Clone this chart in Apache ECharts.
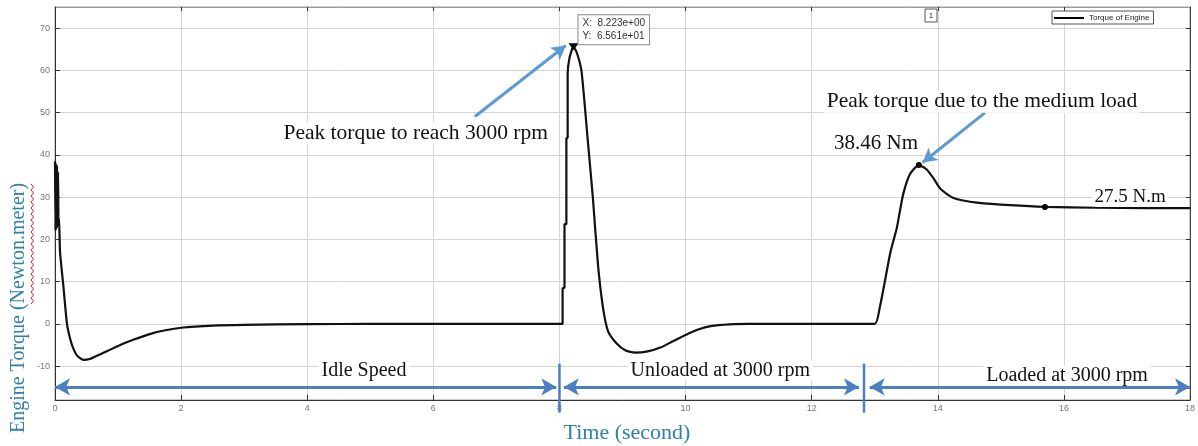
<!DOCTYPE html>
<html>
<head>
<meta charset="utf-8">
<script src="https://cdn.jsdelivr.net/npm/echarts@6/dist/echarts.min.js"></script>
<style>
html,body{margin:0;padding:0;background:#fff;}
#chart{width:1198px;height:446px;}
</style>
</head>
<body>
<div id="chart"></div>
<script>
// ---- data ----
const timeValues = [
  0, 0.008, 0.016, 0.024, 0.032, 0.040, 0.048, 0.056, 0.064, 0.08, 0.13, 0.19, 0.24, 0.29, 0.35, 0.45, 0.55, 0.7, 1.0, 1.25, 1.5, 1.75, 2.0, 2.5, 3.0, 4.0, 5.0, 6.0, 7.0, 8.05,
  8.05, 8.08, 8.08, 8.11, 8.11, 8.13, 8.13, 8.16, 8.223, 8.28, 8.35, 8.45, 8.53, 8.61, 8.69, 8.77, 8.9, 9.05, 9.2, 9.4, 9.6, 9.8, 10.0, 10.2, 10.4, 10.7, 11.0, 12.0, 13.0,
  13.08, 13.16, 13.25, 13.35, 13.45, 13.56, 13.7, 13.82, 13.93, 14.03, 14.14, 14.25, 14.4, 14.62, 15.15, 15.7, 16.5, 17.3, 18.0
];
const torqueValues = [
  38.5, 22.0, 38.0, 22.5, 37.5, 23.0, 36.0, 24.0, 25.0, 17.0, 9.4, 0.0, -3.5, -5.8, -7.5, -8.5, -8.3, -7.3, -5.2, -3.7, -2.4, -1.5, -0.9, -0.4, -0.2, -0.05, 0, 0, 0, 0,
  8.5, 8.5, 23.6, 23.6, 44.0, 44.0, 59.0, 63.0, 65.61, 64.0, 59.8, 43.3, 29.9, 14.2, 3.9, -1.7, -4.5, -6.3, -6.8, -6.5, -5.6, -4.1, -2.6, -1.3, -0.5, -0.1, 0, 0, 0,
  3.9, 10.0, 17.0, 22.7, 30.6, 35.5, 37.6, 36.6, 34.5, 32.2, 30.8, 29.8, 29.2, 28.7, 28.1, 27.7, 27.5, 27.4, 27.4
];
const xTicks = [0, 2, 4, 6, 8, 10, 12, 14, 16, 18];
const yTicks = [-10, 0, 10, 20, 30, 40, 50, 60, 70];
const seriesName = 'Torque of Engine';
const peakTip = [8.223, 65.61];
const markedPoints = [[13.7, 37.6], [15.7, 27.7]];
const phaseNames = ['Idle Speed', 'Unloaded at 3000 rpm', 'Loaded at 3000 rpm'];
const phaseStart = [0, 8.07, 12.92];
const phaseEnd = [7.95, 12.75, 18.0];
const phaseDividers = [8.0, 12.83];
const noteTexts = ['Peak torque to reach 3000 rpm', 'Peak torque due to the medium load', '38.46 Nm', '27.5 N.m'];

// ---- layout / style ----
const SERIF = 'Liberation Serif, Times New Roman, serif';
const SANS = 'Liberation Sans, Arial, sans-serif';
const BLUE = '#4a7fc0';
const LIGHTBLUE = '#5b9bd5';
const TEAL = '#2f7fa8';
const noteX = [5.72, 14.70, 13.02, 17.05];
const noteY = [45.0, 52.6, 42.7, 30.1];
const noteSize = [21.5, 21.5, 21, 19];
const phaseLabelX = [4.9, 10.55, 16.05];
const phaseLabelY = [-11.1, -11.1, -12.2];
const arrowY = -14.9;
const dividerTop = -9.4, dividerBottom = -21.0;

function fmtExp(v) {
  return v.toExponential(3).replace(/e([+-])(\d)$/, 'e$10$2');
}

const chart = echarts.init(document.getElementById('chart'), null, {renderer: 'canvas'});

const seriesData = timeValues.map((t, i) => [t, torqueValues[i]]);

const labelPoints = [];
noteTexts.forEach((txt, i) => {
  labelPoints.push({
    coord: [noteX[i], noteY[i]], symbol: 'circle', symbolSize: 1,
    itemStyle: {color: 'rgba(0,0,0,0)'},
    label: {show: true, position: 'inside', formatter: txt, fontFamily: SERIF, fontSize: noteSize[i], color: '#111',
            backgroundColor: '#fff', padding: [0, 2]}
  });
});
phaseNames.forEach((txt, i) => {
  labelPoints.push({
    coord: [phaseLabelX[i], phaseLabelY[i]], symbol: 'circle', symbolSize: 1,
    itemStyle: {color: 'rgba(0,0,0,0)'},
    label: {show: true, position: 'inside', formatter: txt, fontFamily: SERIF, fontSize: 20, color: '#111',
            backgroundColor: '#fff', padding: [0, 3]}
  });
});
markedPoints.forEach(p => {
  labelPoints.push({coord: p, symbol: 'circle', symbolSize: 6, itemStyle: {color: '#000'}, label: {show: false}});
});
labelPoints.push({
  coord: peakTip, symbol: 'triangle', symbolRotate: 180, symbolSize: [10, 7], itemStyle: {color: '#000'},
  label: {show: true, position: [10, -28], formatter: 'X:  ' + fmtExp(peakTip[0]) + '\nY:  ' + fmtExp(peakTip[1]),
          fontFamily: SANS, fontSize: 10, color: '#333', lineHeight: 13, backgroundColor: '#fff',
          borderColor: '#888', borderWidth: 1, padding: [2, 4, 1, 4]}
});

const arrowLines = [];
phaseNames.forEach((n, i) => {
  arrowLines.push([
    {coord: [phaseStart[i], arrowY], symbol: 'arrow', symbolSize: [13, 15]},
    {coord: [phaseEnd[i], arrowY], symbol: 'arrow', symbolSize: [13, 15]}
  ]);
});
arrowLines.push([
  {coord: [6.66, 49.1], symbol: 'none', lineStyle: {color: LIGHTBLUE, width: 3}},
  {coord: [8.10, 65.9], symbol: 'arrow', symbolSize: [12, 14]}
]);
arrowLines.push([
  {coord: [14.75, 50.0], symbol: 'none', lineStyle: {color: LIGHTBLUE, width: 3}},
  {coord: [13.76, 38.2], symbol: 'arrow', symbolSize: [12, 14]}
]);

// wavy spell-check underline under "Newton.meter"
const wave = [];
for (let k = 0, y = 184; y <= 304; y += 3, k++) wave.push([k % 2 === 0 ? 31 : 33.5, y]);

const option = {
  animation: false,
  backgroundColor: '#fff',
  grid: {left: 55, right: 8, top: 7, bottom: 46, show: true, borderColor: '#9a9a9a', borderWidth: 1, backgroundColor: '#fff'},
  legend: {
    data: [seriesName], left: 1052, top: 11, itemWidth: 30, itemHeight: 2, padding: [3, 4, 2, 2],
    borderColor: '#555', borderWidth: 1, backgroundColor: '#fff',
    textStyle: {fontFamily: SANS, fontSize: 8, color: '#222'}, icon: 'rect', itemStyle: {color: '#000'}
  },
  xAxis: [{
    type: 'value', min: 0, max: 18, interval: 2, position: 'bottom',
    axisLine: {show: true, onZero: false, lineStyle: {color: '#333', width: 1}},
    axisTick: {show: true, inside: true, length: 5, lineStyle: {color: '#333'}},
    axisLabel: {show: true, fontFamily: SANS, fontSize: 9, color: '#777', margin: 4},
    splitLine: {show: true, lineStyle: {color: '#d4d4d4', width: 1}}
  }, {
    type: 'value', min: 0, max: 18, interval: 2, position: 'top',
    axisLine: {show: true, onZero: false, lineStyle: {color: '#9a9a9a'}},
    axisTick: {show: true, inside: true, length: 4, lineStyle: {color: '#333'}},
    axisLabel: {show: false}, splitLine: {show: false}
  }],
  yAxis: [{
    type: 'value', min: -18, max: 75, position: 'left',
    axisLine: {show: true, onZero: false, lineStyle: {color: '#333', width: 1}},
    axisTick: {show: true, inside: true, length: 5, customValues: yTicks, lineStyle: {color: '#333'}},
    axisLabel: {show: true, customValues: yTicks, fontFamily: SANS, fontSize: 9, color: '#777', margin: 5},
    splitLine: {show: true, lineStyle: {color: '#d4d4d4', width: 1}}
  }, {
    type: 'value', min: -18, max: 75, position: 'right',
    axisLine: {show: true, onZero: false, lineStyle: {color: '#444', width: 1}},
    axisTick: {show: true, inside: true, length: 4, customValues: yTicks, lineStyle: {color: '#333'}},
    axisLabel: {show: false}, splitLine: {show: false}
  }],
  series: [{
    name: seriesName, type: 'line', data: seriesData, xAxisIndex: 0, yAxisIndex: 0,
    showSymbol: false, symbol: 'none', clip: false, z: 3,
    smooth: 0.2,
    lineStyle: {color: '#111', width: 2.2}, itemStyle: {color: '#111'},
    markLine: {
      silent: true, z: 6, symbol: 'none', label: {show: false},
      lineStyle: {color: BLUE, width: 3, type: 'solid'},
      data: arrowLines
    },
    markPoint: {silent: true, z: 7, data: labelPoints}
  }],
  graphic: [
    {id: 'yname', type: 'text', x: 19, y: 308, rotation: Math.PI / 2, style: {text: 'Engine Torque (Newton.meter)', fill: TEAL, font: '20px ' + SERIF, align: 'center', verticalAlign: 'middle'}, z: 10},
    {id: 'wave', type: 'polyline', shape: {points: wave}, style: {stroke: '#d22', lineWidth: 1, fill: null}, z: 10},
    {id: 'xname', type: 'text', x: 627, y: 433, style: {text: 'Time (second)', fill: TEAL, font: '22px ' + SERIF, align: 'center', verticalAlign: 'middle'}, z: 10},
    {id: 'box1', type: 'rect', shape: {x: 925, y: 9, width: 12, height: 13}, style: {fill: '#fff', stroke: '#555', lineWidth: 1}, z: 10},
    {id: 'box1t', type: 'text', x: 931, y: 16, style: {text: '1', fill: '#333', font: '8px ' + SANS, align: 'center', verticalAlign: 'middle'}, z: 11}
  ]
};
chart.setOption(option);

// phase divider bars (extend below the axis), placed through the chart's own scales
const dividerGraphics = phaseDividers.map((x, i) => {
  const p1 = chart.convertToPixel({gridIndex: 0}, [x, dividerTop]);
  const p2 = chart.convertToPixel({gridIndex: 0}, [x, dividerBottom]);
  return {id: 'div' + i, type: 'line', shape: {x1: p1[0], y1: p1[1], x2: p2[0], y2: p2[1]},
          style: {stroke: BLUE, lineWidth: 2.5}, z: 12};
});
chart.setOption({graphic: dividerGraphics});
</script>
</body>
</html>
